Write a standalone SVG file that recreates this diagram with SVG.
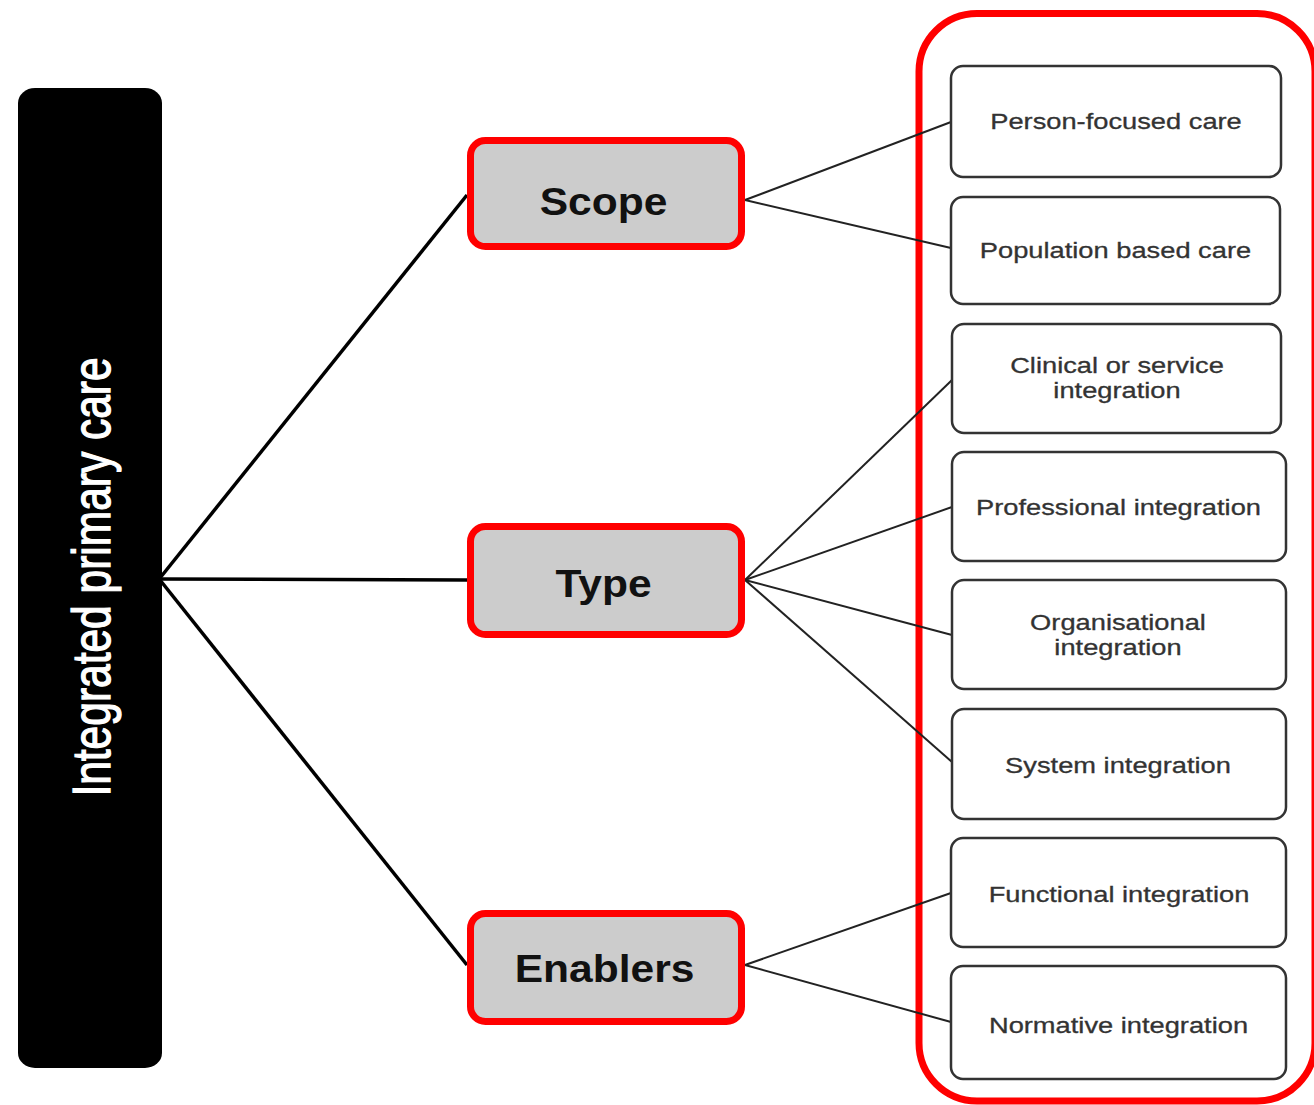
<svg xmlns="http://www.w3.org/2000/svg" width="1314" height="1105" viewBox="0 0 1314 1105">
<style>
.bar{fill:#000}
.bartext{font-family:"Liberation Sans",Arial,sans-serif;font-size:42.5px;fill:#fff;stroke:#fff;stroke-width:1;text-anchor:middle}
.mid{fill:#cccccc;stroke:#ff0000;stroke-width:7}
.midtext{font-family:"Liberation Sans",Arial,sans-serif;font-size:38px;font-weight:bold;fill:#111;text-anchor:middle}
.leaf{fill:#fff;stroke:#333;stroke-width:2.5}
.leaftext{font-family:"Liberation Sans",Arial,sans-serif;font-size:22px;fill:#333;stroke:#333;stroke-width:0.3;text-anchor:middle}
.frame{fill:none;stroke:#ff0000;stroke-width:7}
.main{stroke:#000;stroke-width:3.5;fill:none}
.sub{stroke:#222;stroke-width:2;fill:none}
</style>
<rect width="1314" height="1105" fill="#fff"/>
<g id="frame"><rect class="frame" x="919" y="13.5" width="396" height="1087.5" rx="58" ry="58"/></g>
<g id="connectors">
<line class="main" x1="160" y1="578" x2="467" y2="195"/>
<line class="main" x1="160" y1="579" x2="467" y2="580"/>
<line class="main" x1="160" y1="580" x2="467" y2="965"/>
<line class="sub" x1="745" y1="200" x2="951" y2="122"/>
<line class="sub" x1="745" y1="200" x2="951" y2="248"/>
<line class="sub" x1="745" y1="580" x2="952" y2="380"/>
<line class="sub" x1="745" y1="580" x2="952" y2="507"/>
<line class="sub" x1="745" y1="580" x2="952" y2="635"/>
<line class="sub" x1="745" y1="580" x2="952" y2="762"/>
<line class="sub" x1="745" y1="965" x2="951" y2="893"/>
<line class="sub" x1="745" y1="965" x2="951" y2="1022"/>
</g>
<g id="integrated-primary-care">
<rect class="bar" x="18" y="88" width="144" height="980" rx="17" ry="15"/>
<text class="bartext" transform="translate(110,577) rotate(-90) scale(1,1.25)">Integrated primary care</text>
</g>
<g id="scope">
<rect class="mid" x="470.5" y="140.5" width="271" height="106" rx="15"/>
<text class="midtext" transform="translate(603.5,215) scale(1.12,1)">Scope</text>
</g>
<g id="type">
<rect class="mid" x="470.5" y="526.5" width="271" height="108" rx="15"/>
<text class="midtext" transform="translate(603.5,597) scale(1.12,1)">Type</text>
</g>
<g id="enablers">
<rect class="mid" x="470.5" y="913.5" width="271" height="108" rx="15"/>
<text class="midtext" transform="translate(604.5,982) scale(1.12,1)">Enablers</text>
</g>
<g id="person-focused-care">
<rect class="leaf" x="951" y="66" width="330" height="111" rx="12"/>
<text class="leaftext" transform="translate(1116,129) scale(1.24,1)">Person-focused care</text>
</g>
<g id="population-based-care">
<rect class="leaf" x="951" y="197" width="329" height="107" rx="12"/>
<text class="leaftext" transform="translate(1115.5,258) scale(1.24,1)">Population based care</text>
</g>
<g id="clinical-or-service-integration">
<rect class="leaf" x="952" y="324" width="329" height="109" rx="12"/>
<text class="leaftext" transform="translate(1117,373) scale(1.24,1)">Clinical or service</text>
<text class="leaftext" transform="translate(1117,398) scale(1.24,1)">integration</text>
</g>
<g id="professional-integration">
<rect class="leaf" x="952" y="452" width="334" height="109" rx="12"/>
<text class="leaftext" transform="translate(1118.5,515) scale(1.24,1)">Professional integration</text>
</g>
<g id="organisational-integration">
<rect class="leaf" x="952" y="580" width="334" height="109" rx="12"/>
<text class="leaftext" transform="translate(1118,630) scale(1.24,1)">Organisational</text>
<text class="leaftext" transform="translate(1118,655) scale(1.24,1)">integration</text>
</g>
<g id="system-integration">
<rect class="leaf" x="952" y="709" width="334" height="110" rx="12"/>
<text class="leaftext" transform="translate(1118,773) scale(1.24,1)">System integration</text>
</g>
<g id="functional-integration">
<rect class="leaf" x="951" y="838" width="335" height="109" rx="12"/>
<text class="leaftext" transform="translate(1119,902) scale(1.24,1)">Functional integration</text>
</g>
<g id="normative-integration">
<rect class="leaf" x="951" y="966" width="335" height="113" rx="12"/>
<text class="leaftext" transform="translate(1118.5,1033) scale(1.24,1)">Normative integration</text>
</g>
</svg>
